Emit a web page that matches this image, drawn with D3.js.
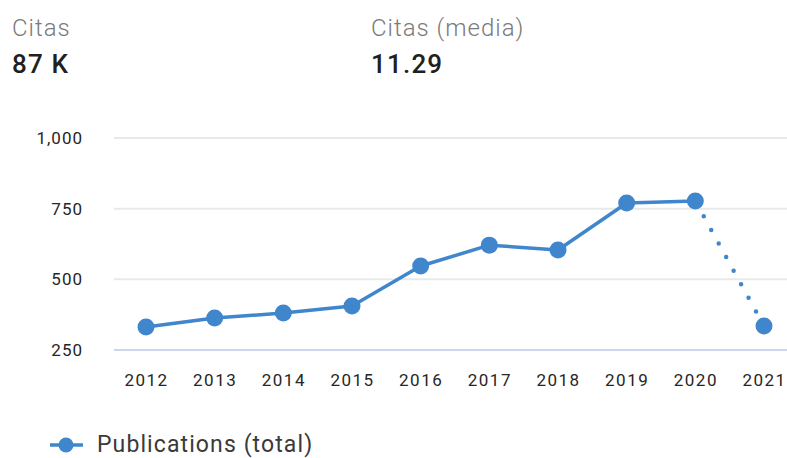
<!DOCTYPE html>
<html>
<head>
<meta charset="utf-8">
<script src="https://cdn.jsdelivr.net/npm/d3@7"></script>
<style>
html,body{margin:0;padding:0;background:#fff;}
svg{display:block;font-family:Roboto, "Noto Sans", sans-serif;}
</style>
</head>
<body>
<svg id="chart" width="787" height="458"></svg>
<script>
const years = ["2012","2013","2014","2015","2016","2017","2018","2019","2020","2021"];
const publications = [331, 363, 381, 406, 547, 621, 604, 770, 777, 335];
const yTicks = [250, 500, 750, 1000];
const stats = [
  {label: "Citas", value: "87 K"},
  {label: "Citas (media)", value: "11.29"}
];
const seriesName = "Publications (total)";

const blue = "#3f86cc";
const svg = d3.select("#chart");

// header stats
const statX = [12, 371];
stats.forEach((s, i) => {
  svg.append("text").attr("x", statX[i]).attr("y", 36)
    .attr("font-size", 24).attr("fill", "#7a7a7a").attr("font-weight", 300)
    .attr("letter-spacing", 1)
    .text(s.label);
  svg.append("text").attr("x", statX[i]).attr("y", 73)
    .attr("font-size", 26).attr("fill", "#202020").attr("font-weight", 500)
    .attr("letter-spacing", 1.2)
    .text(s.value);
});

const x = d3.scalePoint().domain(years).range([146, 764]);
const y = d3.scaleLinear().domain([250, 1000]).range([350, 138]);

// grid lines
svg.append("g").selectAll("line").data(yTicks).join("line")
  .attr("x1", 114).attr("x2", 787)
  .attr("y1", d => y(d)).attr("y2", d => y(d))
  .attr("stroke", d => d === 250 ? "#cdd6ee" : "#e9e9e9")
  .attr("stroke-width", 2);

// y axis labels
const yAxis = d3.axisLeft(y).tickValues(yTicks).tickSize(0).tickPadding(0)
  .tickFormat(d3.format(","));
const ya = svg.append("g").attr("transform", "translate(83,0)").call(yAxis);
ya.select(".domain").remove();
ya.selectAll("text").attr("font-size", 17).attr("fill", "#262626")
  .attr("letter-spacing", 1)
  .attr("font-family", "Roboto, sans-serif");

// x axis labels
const xAxis = d3.axisBottom(x).tickSize(0).tickPadding(0);
const xa = svg.append("g").attr("transform", "translate(0,374)").call(xAxis);
xa.select(".domain").remove();
xa.selectAll("text").attr("font-size", 17).attr("fill", "#262626")
  .attr("letter-spacing", 1.5)
  .attr("font-family", "Roboto, sans-serif");

// solid line (all but last)
const pts = years.map((yr, i) => ({yr, v: publications[i]}));
const line = d3.line().x(d => x(d.yr)).y(d => y(d.v));
svg.append("path").datum(pts.slice(0, pts.length - 1))
  .attr("d", line).attr("fill", "none").attr("stroke", blue)
  .attr("stroke-width", 3.5).attr("stroke-linejoin", "round");

// dotted last segment
svg.append("path").datum(pts.slice(pts.length - 2))
  .attr("d", line).attr("fill", "none").attr("stroke", blue)
  .attr("stroke-width", 4.5).attr("stroke-linecap", "round")
  .attr("stroke-dasharray", "0 15.5").attr("stroke-dashoffset", -2);

// points
svg.append("g").selectAll("circle").data(pts).join("circle")
  .attr("cx", d => x(d.yr)).attr("cy", d => y(d.v)).attr("r", 8.5)
  .attr("fill", blue);

// legend
const lg = svg.append("g");
lg.append("line").attr("x1", 50).attr("x2", 83).attr("y1", 445).attr("y2", 445)
  .attr("stroke", blue).attr("stroke-width", 3.5);
lg.append("circle").attr("cx", 66).attr("cy", 445).attr("r", 7.5).attr("fill", blue);
lg.append("text").attr("x", 97).attr("y", 452).attr("font-size", 23)
  .attr("letter-spacing", 1.1)
  .attr("fill", "#3a3a3a").text(seriesName);
</script>
</body>
</html>
